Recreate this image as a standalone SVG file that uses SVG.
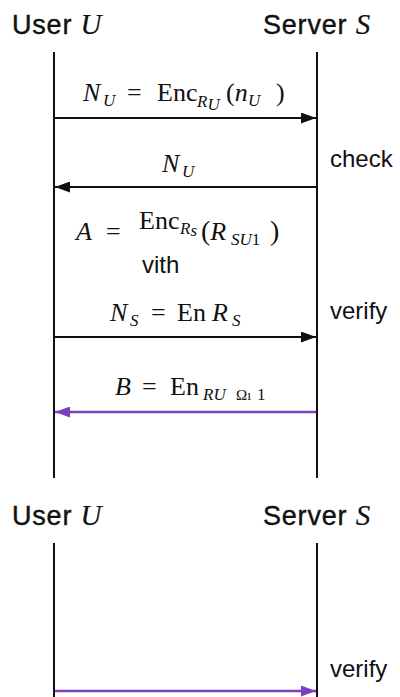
<svg xmlns="http://www.w3.org/2000/svg" width="400" height="697" viewBox="0 0 400 697">
<style>
.hd{font-family:"Liberation Sans",Arial,sans-serif;font-size:27px;letter-spacing:0.8px;fill:#111;stroke:#111;stroke-width:0.4}
.hi{font-family:"Liberation Serif","Times New Roman",serif;font-style:italic;font-size:29px;letter-spacing:0;stroke-width:0.2}
.m{font-family:"Liberation Serif","Times New Roman",serif;font-size:26px;fill:#111}
.i{font-style:italic}
.sub{font-size:17px;font-style:italic}
.lab{font-family:"Liberation Sans",Arial,sans-serif;font-size:24px;fill:#111}
.life{stroke:#111;stroke-width:2;fill:none}
.blk{stroke:#111;stroke-width:2;fill:none}
.pur{stroke:#7b3fbf;stroke-width:2.5;fill:none}
</style>
<defs>
<marker id="ab" markerWidth="15" markerHeight="11" refX="15" refY="5.5" orient="auto" markerUnits="userSpaceOnUse"><path d="M0,0 L15,5.5 L0,11 Z" fill="#111"/></marker>
<marker id="ap" markerWidth="15" markerHeight="11" refX="15" refY="5.5" orient="auto" markerUnits="userSpaceOnUse"><path d="M0,0 L15,5.5 L0,11 Z" fill="#7b3fbf"/></marker>
</defs>
<rect width="400" height="697" fill="#fff"/>
<g id="user1"><text class="hd" x="12" y="34">User <tspan class="hi">U</tspan></text><line class="life" x1="54" y1="52" x2="54" y2="478"/></g>
<g id="server1"><text class="hd" x="263" y="34">Server <tspan class="hi">S</tspan></text><line class="life" x1="317" y1="52" x2="317" y2="478"/></g>
<g id="user2"><text class="hd" x="12" y="525">User <tspan class="hi">U</tspan></text><line class="life" x1="54" y1="543" x2="54" y2="697"/></g>
<g id="server2"><text class="hd" x="263" y="525">Server <tspan class="hi">S</tspan></text><line class="life" x1="317" y1="543" x2="317" y2="697"/></g>
<g id="connectors">
<line class="blk" x1="55" y1="118" x2="316" y2="118" marker-end="url(#ab)"/>
<line class="blk" x1="316" y1="187" x2="55" y2="187" marker-end="url(#ab)"/>
<line class="blk" x1="55" y1="337" x2="316" y2="337" marker-end="url(#ab)"/>
<line class="pur" x1="316" y1="412" x2="55" y2="412" marker-end="url(#ap)"/>
<line class="pur" x1="55" y1="691" x2="316" y2="691" marker-end="url(#ap)"/>
</g>
<g id="labels">
<text class="m" y="101"><tspan class="i" x="83">N</tspan><tspan class="sub" x="103" dy="5">U</tspan><tspan x="127" dy="-5">=</tspan><tspan x="157">Enc</tspan><tspan class="sub" x="197" dy="6">R</tspan><tspan class="sub" font-size="12" dy="3">U</tspan><tspan x="226" dy="-9">(</tspan><tspan class="i">n</tspan><tspan class="sub" x="248" dy="5">U</tspan><tspan x="276" dy="-5">)</tspan></text>
<text class="m" y="172"><tspan class="i" x="162">N</tspan><tspan class="sub" x="182" dy="5">U</tspan></text>
<text class="lab" x="330" y="167">check</text>
<text class="m" y="240"><tspan class="i" x="76">A</tspan><tspan x="106">=</tspan></text>
<text class="m" y="229"><tspan x="139">Enc</tspan><tspan class="sub" font-size="14" x="180" dy="5">R</tspan><tspan class="sub" font-size="10" dy="2">s</tspan><tspan font-size="28" x="201" dy="4">(</tspan><tspan class="i" dy="0">R</tspan><tspan class="sub" x="231" dy="5">SU</tspan><tspan font-size="17" font-style="normal">1</tspan><tspan font-size="28" x="270" dy="-5">)</tspan></text>
<text class="lab" x="142" y="273" font-size="27">vith</text>
<text class="m" y="321"><tspan class="i" x="110">N</tspan><tspan class="sub" x="130" dy="5">S</tspan><tspan x="151" dy="-5">=</tspan><tspan x="177">En</tspan><tspan class="i" x="212">R</tspan><tspan class="sub" x="232" dy="5">S</tspan></text>
<text class="lab" x="330" y="319">verify</text>
<text class="m" y="395"><tspan class="i" x="115">B</tspan><tspan x="142">=</tspan><tspan x="170">En</tspan><tspan class="sub" x="203" dy="5">RU</tspan><tspan font-size="15" x="236" font-style="normal">Ω</tspan><tspan font-size="14" font-style="normal">ı</tspan><tspan font-size="17" x="257" font-style="normal">1</tspan></text>
<text class="lab" x="330" y="677">verify</text>
</g>
</svg>
